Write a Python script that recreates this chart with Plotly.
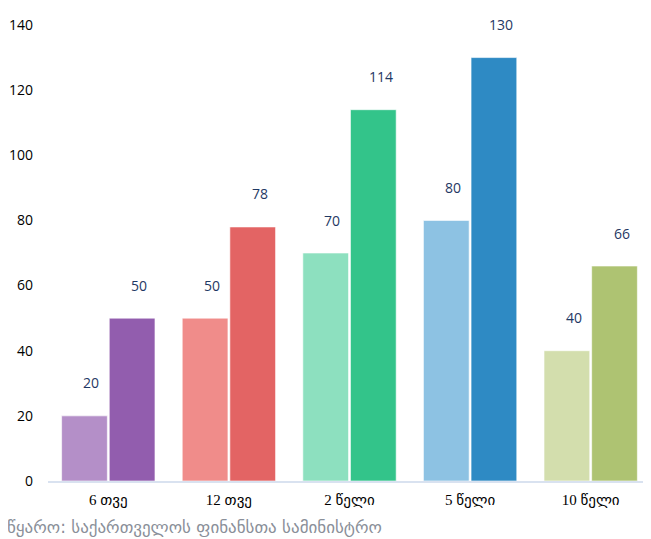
import plotly.graph_objects as go

categories = ["6 თვე", "12 თვე", "2 წელი", "5 წელი", "10 წელი"]
series_a = [20, 50, 70, 80, 40]
series_b = [50, 78, 114, 130, 66]
colors_a = ["#B48FC8", "#F08C8A", "#8DE0BF", "#8DC2E3", "#D3DEAD"]
colors_b = ["#925DAE", "#E36464", "#33C48A", "#2E8AC4", "#AEC372"]
y_ticks = [0, 20, 40, 60, 80, 100, 120, 140]
source_text = "წყარო: საქართველოს ფინანსთა სამინისტრო"

fig = go.Figure()
fig.add_trace(go.Bar(x=categories, y=series_a, name="a",
                     marker=dict(color=colors_a, line=dict(color="rgba(255,255,255,0.6)", width=1))))
fig.add_trace(go.Bar(x=categories, y=series_b, name="b",
                     marker=dict(color=colors_b, line=dict(color="rgba(255,255,255,0.6)", width=1))))

annotations = []
for i, c in enumerate(categories):
    for off, vals in ((-0.2, series_a), (0.2, series_b)):
        annotations.append(dict(
            x=i + off, y=vals[i], xref="x", yref="y", text=str(vals[i]),
            showarrow=False, xshift=7, yshift=33, yanchor="middle",
            font=dict(family="Open Sans, sans-serif", size=14, color="#1F3864")))
annotations.append(dict(
    x=0, y=0, xref="paper", yref="paper", text=source_text, showarrow=False,
    xanchor="left", yanchor="middle", xshift=-43, yshift=-46,
    font=dict(family="DejaVu Sans, sans-serif", size=17, color="#8A8F99")))

fig.update_layout(
    width=643, height=531,
    margin=dict(l=40, r=0, t=17, b=58),
    plot_bgcolor="white", paper_bgcolor="white",
    barmode="group", bargap=0.21, bargroupgap=0.04,
    showlegend=False,
    annotations=annotations,
    xaxis=dict(showgrid=False, showline=True, linecolor="#D9E2F0", linewidth=2,
               ticks="", ticklabelstandoff=4,
               tickfont=dict(family="Liberation Serif, DejaVu Sans, serif", size=15, color="#000000")),
    yaxis=dict(range=[0, 140], tickvals=y_ticks, showgrid=False, zeroline=False,
               showline=False, ticks="", ticklabelstandoff=14,
               tickfont=dict(family="Open Sans, sans-serif", size=14, color="#000000")),
)
fig.write_html("out.html")
